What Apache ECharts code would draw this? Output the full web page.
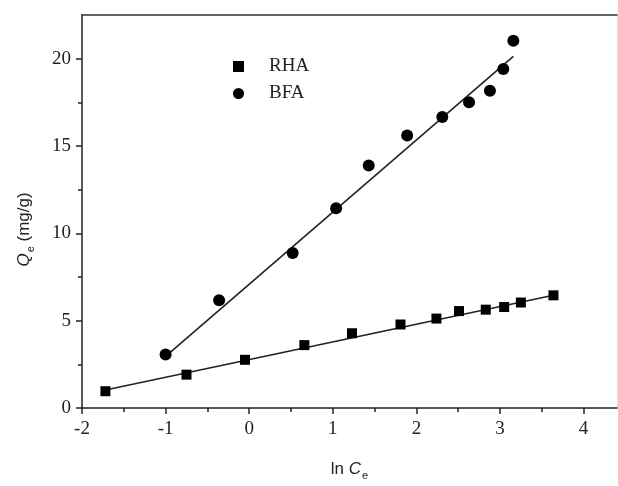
<!DOCTYPE html>
<html>
<head>
<meta charset="utf-8">
<script src="https://cdn.jsdelivr.net/npm/echarts@6/dist/echarts.min.js"></script>
<style>
  html, body { margin: 0; padding: 0; background: #fff; }
  #main { width: 618px; height: 486px; }
</style>
</head>
<body>
<div id="main"></div>
<script>
// measured points (ln Ce, Qe)
const rhaX = [-1.72, -0.75, -0.05, 0.66, 1.23, 1.81, 2.24, 2.51, 2.83, 3.05, 3.25, 3.64];
const rhaY = [0.96, 1.91, 2.76, 3.60, 4.28, 4.78, 5.12, 5.55, 5.63, 5.78, 6.04, 6.45];
const bfaX = [-1.00, -0.36, 0.52, 1.04, 1.43, 1.89, 2.31, 2.63, 2.88, 3.04, 3.16];
const bfaY = [3.06, 6.17, 8.87, 11.44, 13.88, 15.60, 16.66, 17.50, 18.16, 19.41, 21.03];

// fitted line end points
const rhaFitX = [-1.72, 3.64];
const rhaFitY = [1.03, 6.45];
const bfaFitX = [-1.00, 3.16];
const bfaFitY = [2.95, 20.13];

const xTicks = [-2, -1, 0, 1, 2, 3, 4];
const xMinor = [-1.5, -0.5, 0.5, 1.5, 2.5, 3.5];
const yTicks = [0, 5, 10, 15, 20];
const yMinor = [2.5, 7.5, 12.5, 17.5];

const zip = (xs, ys) => xs.map((x, i) => [x, ys[i]]);

const serif = 'Liberation Serif, Times New Roman, serif';
const sans = 'Liberation Sans, Arial, sans-serif';

const chart = echarts.init(document.getElementById('main'));

const majorX = {
    type: 'value', position: 'bottom', min: -2, max: 4.4,
    axisLine: { show: true, onZero: false, lineStyle: { color: '#222', width: 1.5 } },
    axisTick: { show: true, inside: false, length: 6, customValues: xTicks, lineStyle: { color: '#222', width: 1.5 } },
    axisLabel: { show: true, customValues: xTicks, margin: 12, color: '#222', fontFamily: serif, fontSize: 19 },
    splitLine: { show: false },
    name: '{n|ln }{c|C}{s|e}',
    nameLocation: 'middle',
    nameGap: 50,
    nameTextStyle: {
        rich: {
            n: { fontFamily: sans, fontSize: 17, color: '#222' },
            c: { fontFamily: sans, fontSize: 17, fontStyle: 'italic', color: '#222' },
            s: { fontFamily: sans, fontSize: 11, color: '#222', verticalAlign: 'bottom', padding: [12, 0, 0, 1] }
        }
    }
};
const minorX = {
    type: 'value', position: 'bottom', min: -2, max: 4.4,
    axisLine: { show: false, onZero: false },
    axisTick: { show: true, length: 4, customValues: xMinor, lineStyle: { color: '#222', width: 1.5 } },
    axisLabel: { show: false },
    splitLine: { show: false }
};
const topX = {
    type: 'value', position: 'top', min: -2, max: 4.4,
    axisLine: { show: true, onZero: false, lineStyle: { color: '#333', width: 1.5 } },
    axisTick: { show: false }, axisLabel: { show: false }, splitLine: { show: false }
};
const majorY = {
    type: 'value', position: 'left', min: 0, max: 22.5,
    axisLine: { show: true, onZero: false, lineStyle: { color: '#222', width: 1.5 } },
    axisTick: { show: true, length: 6, customValues: yTicks, lineStyle: { color: '#222', width: 1.5 } },
    axisLabel: { show: true, customValues: yTicks, margin: 11, color: '#222', fontFamily: serif, fontSize: 19 },
    splitLine: { show: false },
    name: '{q|Q}{s|e}{n| (mg/g)}',
    nameLocation: 'middle',
    nameGap: 46,
    nameTextStyle: {
        padding: [0, 36, 0, 0],
        rich: {
            q: { fontFamily: sans, fontSize: 17, fontStyle: 'italic', color: '#222' },
            s: { fontFamily: sans, fontSize: 11, color: '#222', verticalAlign: 'bottom', padding: [12, 0, 0, 1] },
            n: { fontFamily: sans, fontSize: 17, color: '#222' }
        }
    }
};
const minorY = {
    type: 'value', position: 'left', min: 0, max: 22.5,
    axisLine: { show: false, onZero: false },
    axisTick: { show: true, length: 4, customValues: yMinor, lineStyle: { color: '#222', width: 1.5 } },
    axisLabel: { show: false },
    splitLine: { show: false }
};
const rightY = {
    type: 'value', position: 'right', min: 0, max: 22.5,
    axisLine: { show: true, onZero: false, lineStyle: { color: '#ddd', width: 1 } },
    axisTick: { show: false }, axisLabel: { show: false }, splitLine: { show: false }
};

const fitLine = (data) => ({
    type: 'line', data: data, symbol: 'none', silent: true,
    lineStyle: { color: '#222', width: 1.6 }, z: 1
});

chart.setOption({
    animation: false,
    backgroundColor: '#fff',
    grid: { left: 82, right: 1, top: 15, bottom: 71 },
    legend: {
        orient: 'vertical', left: 228, top: 52, itemGap: 8,
        itemWidth: 11, itemHeight: 11,
        textStyle: { fontFamily: serif, fontSize: 19, color: '#222', padding: [0, 0, 0, 20] },
        data: [{ name: 'RHA', icon: 'rect' }, { name: 'BFA', icon: 'circle' }]
    },
    xAxis: [majorX, minorX, topX],
    yAxis: [majorY, minorY, rightY],
    series: [
        fitLine(zip(rhaFitX, rhaFitY)),
        fitLine(zip(bfaFitX, bfaFitY)),
        { name: 'RHA', type: 'scatter', symbol: 'rect', symbolSize: 10, data: zip(rhaX, rhaY), itemStyle: { color: '#000', opacity: 1 }, z: 3 },
        { name: 'BFA', type: 'scatter', symbol: 'circle', symbolSize: 12, data: zip(bfaX, bfaY), itemStyle: { color: '#000', opacity: 1 }, z: 3 }
    ]
});
</script>
</body>
</html>
